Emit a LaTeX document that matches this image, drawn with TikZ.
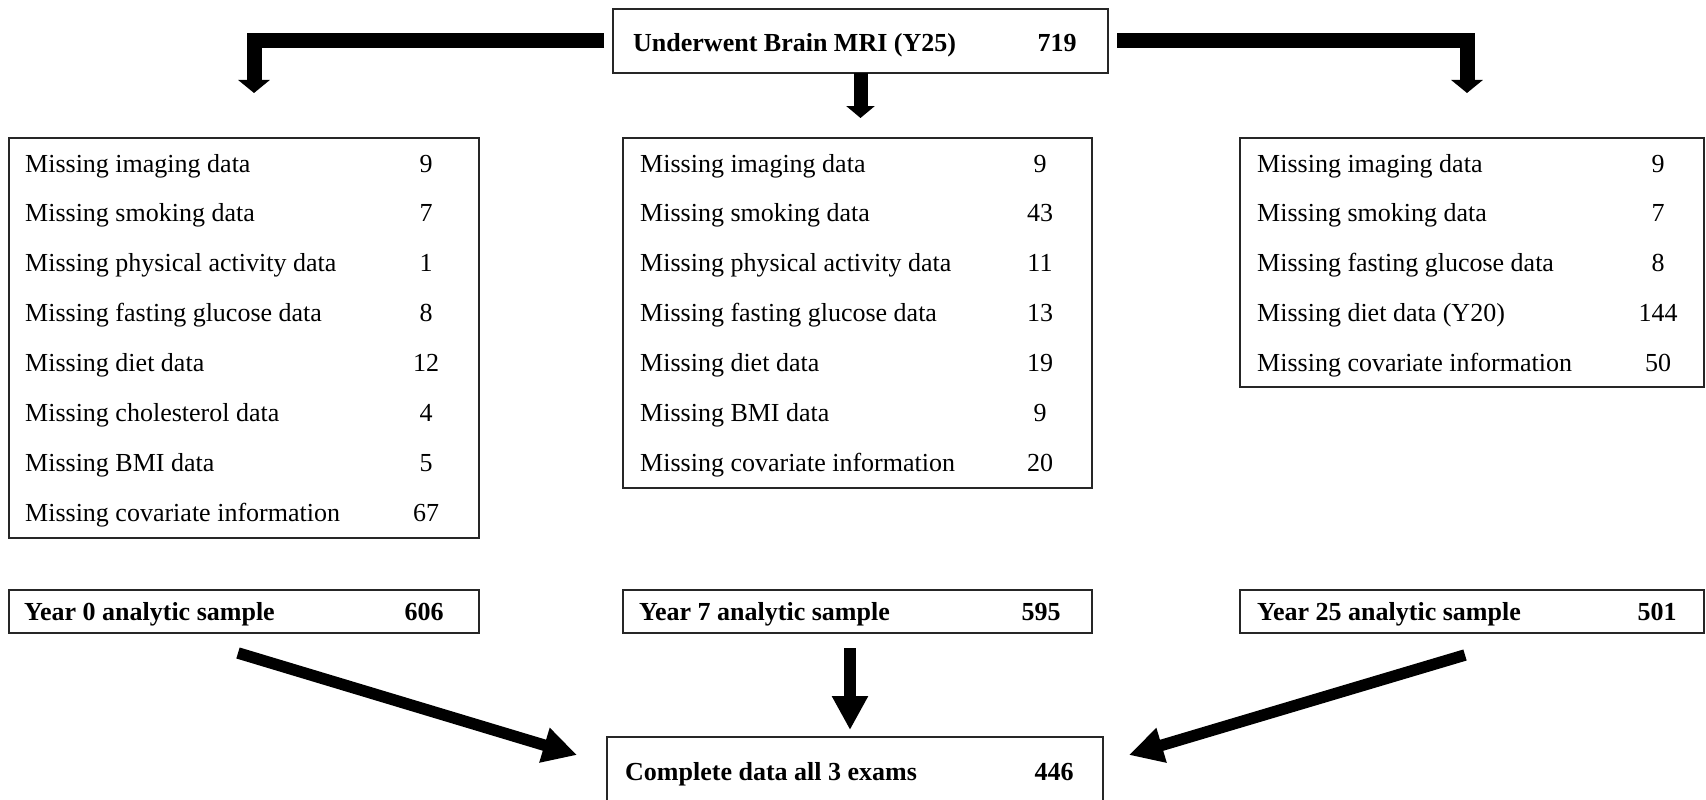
\documentclass[tikz,border=0pt]{standalone}
\usepackage{fontspec}
\setmainfont{Liberation Serif}
\usetikzlibrary{arrows.meta}
\begin{document}
\begin{tikzpicture}[x=1pt,y=-1pt,
  box/.style={draw=black!85,line width=2.4pt,inner sep=0pt,outer sep=0pt,anchor=north west},
  lbl/.style={anchor=base west,inner sep=0pt,font=\fontsize{26}{30}\selectfont},
  num/.style={anchor=base,inner sep=0pt,font=\fontsize{26}{30}\selectfont},
  blbl/.style={lbl,font=\fontsize{26}{30}\selectfont\bfseries},
  bnum/.style={num,font=\fontsize{26}{30}\selectfont\bfseries},
  elb/.style={line width=15pt,line join=miter,-{Triangle[width=31pt,length=13pt]}},
  ctr/.style={line width=14pt,-{Triangle[width=28pt,length=12pt]}},
  diag/.style={line width=11.5pt,-{Triangle[width=34pt,length=34pt]}}]
\useasboundingbox (0,0) rectangle (1706,800);
\fill[white] (0,0) rectangle (1706,800);

% boxes
\node[box,minimum width=495pt,minimum height=64pt] (top) at (613,9) {};
\node[box,minimum width=470pt,minimum height=400pt] (Lbox) at (9,138) {};
\node[box,minimum width=469pt,minimum height=350pt] (Mbox) at (623,138) {};
\node[box,minimum width=464pt,minimum height=249pt] (Rbox) at (1240,138) {};
\node[box,minimum width=470pt,minimum height=43pt] (SL) at (9,590) {};
\node[box,minimum width=469pt,minimum height=43pt] (SM) at (623,590) {};
\node[box,minimum width=464pt,minimum height=43pt] (SR) at (1240,590) {};
\node[box,minimum width=496pt,minimum height=70pt] (bot) at (607,737) {};

% top text
\node[blbl] (topt) at (633,52) {Underwent Brain MRI (Y25)};
\node[bnum] (topn) at (1057,52) {719};

% left list
\foreach \t/\n [count=\i from 0] in {Missing imaging data/9,Missing smoking data/7,Missing physical activity data/1,Missing fasting glucose data/8,Missing diet data/12,Missing cholesterol data/4,Missing BMI data/5,Missing covariate information/67}{
  \node[lbl] (Lt\i) at (25,{172+49.9*\i}) {\t};
  \node[num] (Ln\i) at (426,{172+49.9*\i}) {\n};
}
% middle list
\foreach \t/\n [count=\i from 0] in {Missing imaging data/9,Missing smoking data/43,Missing physical activity data/11,Missing fasting glucose data/13,Missing diet data/19,Missing BMI data/9,Missing covariate information/20}{
  \node[lbl] (Mt\i) at (640,{172+49.9*\i}) {\t};
  \node[num] (Mn\i) at (1040,{172+49.9*\i}) {\n};
}
% right list
\foreach \t/\n [count=\i from 0] in {Missing imaging data/9,Missing smoking data/7,Missing fasting glucose data/8,Missing diet data (Y20)/144,Missing covariate information/50}{
  \node[lbl] (Rt\i) at (1257,{172+49.9*\i}) {\t};
  \node[num] (Rn\i) at (1658,{172+49.9*\i}) {\n};
}

% samples
\node[blbl] (SLt) at (24,620) {Year 0 analytic sample};
\node[bnum] (SLn) at (424,620) {606};
\node[blbl] (SMt) at (639,620) {Year 7 analytic sample};
\node[bnum] (SMn) at (1041,620) {595};
\node[blbl] (SRt) at (1257,620) {Year 25 analytic sample};
\node[bnum] (SRn) at (1657,620) {501};

% bottom
\node[blbl] (bott) at (625,780) {Complete data all 3 exams};
\node[bnum] (botn) at (1054,780) {446};

% arrow coordinates
\coordinate (Ltip) at (254,93);
\coordinate (Rtip) at (1467,93);
\coordinate (Ctip) at (860.5,118);
\coordinate (dLs) at (238,653);
\coordinate (dLe) at (577,755);
\coordinate (dMs) at (850,648);
\coordinate (dMe) at (850,730);
\coordinate (dRs) at (1465,655);
\coordinate (dRe) at (1129,755);

\draw[elb,shorten <=9pt] (top.west) -| (Ltip);
\draw[elb,shorten <=9pt] (top.east) -| (Rtip);
\draw[ctr] (top.south) -- (top.south |- Ctip);
\draw[diag] (dLs) -- (dLe);
\draw[diag] (dMs) -- (dMe);
\draw[diag] (dRs) -- (dRe);
\end{tikzpicture}
\end{document}
